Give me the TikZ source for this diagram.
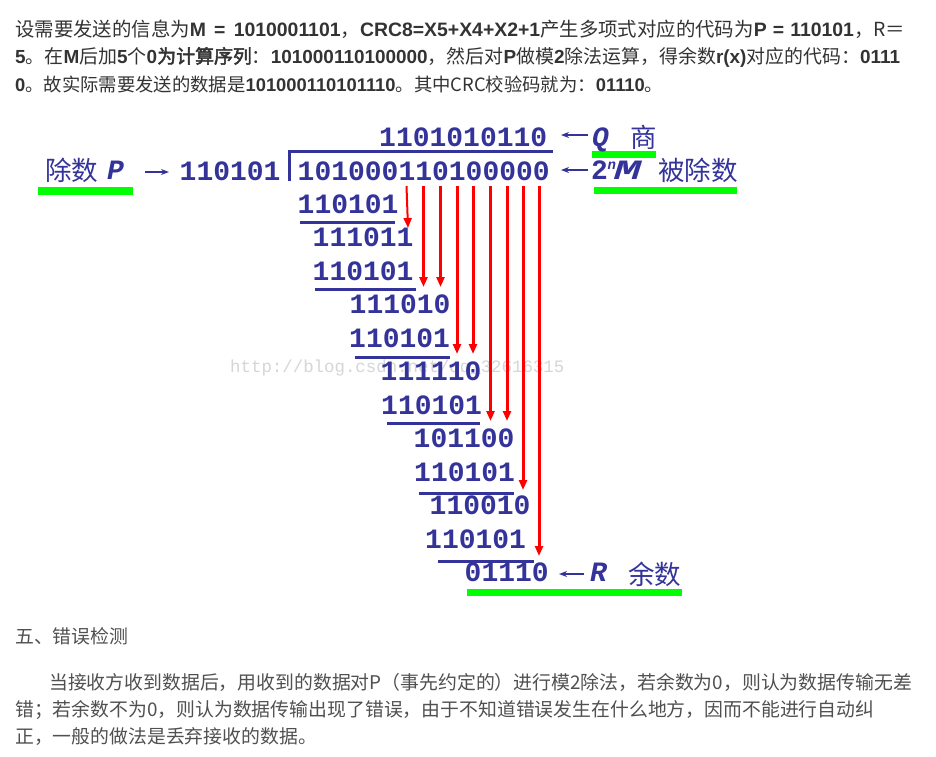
\documentclass[tikz,border=0pt]{standalone}
\usepackage{fontspec}
\usepackage{graphicx}
\usetikzlibrary{arrows.meta}
\setmainfont{Liberation Sans}
\newfontfamily\myCJK{Noto Sans CJK SC}
\newfontfamily\myCJKb{Noto Sans CJK SC}[FakeBold=2.5]
\newfontfamily\myLat{Liberation Sans}
\newfontfamily\myMono{Liberation Mono}
\definecolor{pptblue}{RGB}{51,51,153}
\definecolor{toptext}{RGB}{51,51,51}
\definecolor{bottext}{RGB}{80,80,80}
\definecolor{wmark}{RGB}{214,214,214}
\definecolor{hlgreen}{RGB}{0,255,0}
\newcommand\tlat[1]{{\myLat\bfseries #1}}
\newcommand\digsize{\fontsize{28}{30}\selectfont}
\tikzset{
  topline/.style={anchor=base west, inner sep=0pt, text=toptext, font=\myCJK\fontsize{19}{22}\selectfont},
  botline/.style={anchor=base west, inner sep=0pt, text=bottext, font=\myCJK\fontsize{18.86}{22}\selectfont},
  digits/.style={anchor=base west, inner sep=0pt, text=pptblue, font=\myMono\bfseries\digsize},
  italab/.style={anchor=base west, inner sep=0pt, text=pptblue, font=\myMono\bfseries\itshape\digsize},
  cjklab/.style={anchor=base west, inner sep=0pt, text=pptblue, font=\myCJK\fontsize{26.5}{30}\selectfont},
  subline/.style={draw=pptblue, line width=3pt},
  redarrow/.style={draw=red, line width=3pt, -{Triangle[width=8pt,length=10pt]}},
  bluearrow/.style={draw=pptblue, line width=1.4pt, -{Stealth[width=6pt,length=8pt]}},
  greenbar/.style={fill=hlgreen, draw=none},
  wm/.style={anchor=base west, inner sep=0pt, text=wmark, font=\myMono\fontsize{17.4}{20}\selectfont}
}
\begin{document}
\begin{tikzpicture}[x=1pt,y=-1pt]
\fill[white] (0,0) rectangle (936,756);
\useasboundingbox (0,0) rectangle (936,756);

% ---- top paragraph ----
\node[topline] (t1) at (15,36.7) {\resizebox{890pt}{!}{设需要发送的信息为\tlat{M\hspace{8pt}=\hspace{8pt}1010001101}，\tlat{CRC8=X5+X4+X2+1}产生多项式对应的代码为\tlat{P\hspace{6pt}=\hspace{6pt}110101}，R＝}};
\node[topline] (t2) at (15,63.2) {\resizebox{885pt}{!}{\tlat{5}。在\tlat{M}后加\tlat{5}个\tlat{0}{\myCJKb 为计算序列}：\tlat{101000110100000}，然后对\tlat{P}做模\tlat{2}除法运算，得余数\tlat{r(x)}对应的代码：\tlat{0111}}};
\node[topline] (t3) at (15,91.2) {\resizebox{648pt}{!}{\tlat{0}。故实际需要发送的数据是\tlat{101000110101110}。其中CRC校验码就为：\tlat{01110}。}};

% ---- watermark ----
\node[wm] (wmk) at (230,372) {http://blog.csdn.net/qq\_32616315};

% ---- green highlight bars ----
\fill[greenbar] (38,187) rectangle (133,195);
\fill[greenbar] (592,151) rectangle (656,158);
\fill[greenbar] (594,187) rectangle (737,194);
\fill[greenbar] (467,589) rectangle (682,596);

% ---- division bracket ----
\draw[pptblue, line width=3pt] (289.5,181) -- (289.5,151) -- (553,151);

% ---- numbers ----
\node[digits] (quo) at (379,146.5) {1101010110};
\node[digits] (dvd) at (297.5,180) {101000110100000};
\node[digits] (dvs) at (179.5,180) {110101};
\node[digits] (r2)  at (297.5,213.4) {110101};
\node[digits] (r3)  at (312.5,246.9) {111011};
\node[digits] (r4)  at (312.5,280.3) {110101};
\node[digits] (r5)  at (349.5,313.8) {111010};
\node[digits] (r6)  at (349,347.3) {110101};
\node[digits] (r7)  at (380.5,380.7) {111110};
\node[digits] (r8)  at (381,414.2) {110101};
\node[digits] (r9)  at (413.5,447.6) {101100};
\node[digits] (r10) at (414,481.1) {110101};
\node[digits] (r11) at (429.5,514.6) {110010};
\node[digits] (r12) at (425,548) {110101};
\node[digits] (r13) at (464.5,581.5) {01110};

% ---- subtraction lines ----
\draw[subline] (300,222) -- (395,222);
\draw[subline] (315,289) -- (416,289);
\draw[subline] (355,357.5) -- (450,357.5);
\draw[subline] (387,423) -- (480,423);
\draw[subline] (419,493) -- (514,493);
\draw[subline] (438,561) -- (534,561);

% ---- red bring-down arrows ----
\coordinate (s7) at (406.5,186);  \coordinate (e7) at (408,228);
\coordinate (s8) at (423.5,186);  \coordinate (e8) at (423.5,287);
\coordinate (s9) at (440.5,186);  \coordinate (e9) at (440.5,287);
\coordinate (s10) at (457,186);   \coordinate (e10) at (457,354);
\coordinate (s11) at (473,186);   \coordinate (e11) at (473,354);
\coordinate (s12) at (490.5,186); \coordinate (e12) at (490.5,421);
\coordinate (s13) at (507,186);   \coordinate (e13) at (507,421);
\coordinate (s14) at (523,186);   \coordinate (e14) at (523,490);
\coordinate (s15) at (539,186);   \coordinate (e15) at (539,556);
\draw[redarrow, line width=2pt] (s7) -- (e7);
\foreach \k in {8,...,15} { \draw[redarrow] (s\k) -- (e\k); }

% ---- labels ----
\node[cjklab] (chushu) at (45,180) {除数};
\node[italab] (plab) at (107,179.5) {P};
\coordinate (pa1) at (145,172); \coordinate (pa2) at (169,172);
\draw[bluearrow] (pa1) -- (pa2);

\coordinate (qa1) at (588,135); \coordinate (qa2) at (561,135);
\draw[bluearrow] (qa1) -- (qa2);
\node[italab] (qlab) at (592,146) {Q};
\node[cjklab] (shang) at (630,147.5) {商};

\coordinate (ma1) at (588,170); \coordinate (ma2) at (561,170);
\draw[bluearrow] (ma1) -- (ma2);
\node[digits] (two) at (591,179.5) {2};
\node[anchor=base west, inner sep=0pt, text=pptblue, font=\myMono\bfseries\itshape\fontsize{14}{16}\selectfont] (nsup) at (607.5,169) {n};
\node[italab] (mlab) at (614,179.5) {\scalebox{1.6}[1]{M}};
\node[cjklab] (beichushu) at (658,180) {被除数};

\coordinate (ra1) at (584,574); \coordinate (ra2) at (559,574);
\draw[bluearrow] (ra1) -- (ra2);
\node[italab] (rlab) at (590,581.5) {R};
\node[cjklab] (yushu) at (628,584) {余数};

% ---- bottom paragraph ----
\node[botline] (h5) at (15,643.7) {五、错误检测};
\node[botline] (p1) at (49,689.2) {当接收方收到数据后，用收到的数据对P（事先约定的）进行模2除法，若余数为0，则认为数据传输无差};
\node[botline] (p2) at (15,716.7) {错；若余数不为0，则认为数据传输出现了错误，由于不知道错误发生在什么地方，因而不能进行自动纠};
\node[botline] (p3) at (15,743.2) {正，一般的做法是丢弃接收的数据。};
\end{tikzpicture}
\end{document}
